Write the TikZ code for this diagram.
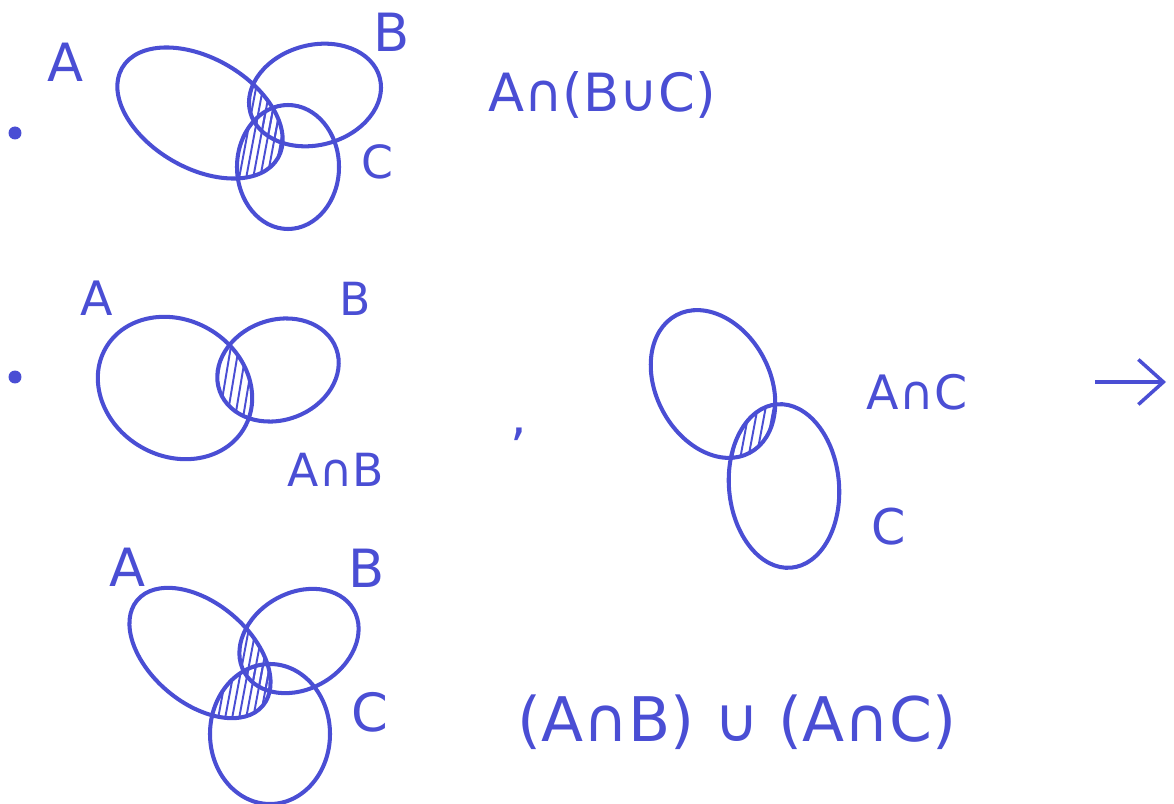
\documentclass[tikz,border=0pt]{standalone}
\usepackage{fontspec}
\setmainfont{DejaVu Sans}
\usetikzlibrary{arrows.meta}
\definecolor{pen}{RGB}{74,78,212}
\begin{document}
\begin{tikzpicture}[x=0.02cm, y=0.02cm,
  set/.style={draw=pen, line width=2.3pt},
  hatch/.style={draw=pen, line width=1.1pt},
  lbl/.style={text=pen, inner sep=0pt, font=\fontsize{30}{36}\selectfont},
  dotn/.style={circle, fill=pen, inner sep=0pt, minimum size=0.26cm}]
\useasboundingbox (0,0) rectangle (1174,-804);
% ---------- top diagram ----------
\def\TA{(200,-113) circle[x radius=90, y radius=55, rotate=-30]}
\def\TB{(315,-95) circle[x radius=67, y radius=50, rotate=15]}
\def\TC{(288,-167) circle[x radius=51, y radius=62]}
\begin{scope}\clip\TA;\clip\TB;
  \foreach \x in {200,207,...,320} \draw[hatch] (\x,-200) -- (\x+30,-40);
\end{scope}
\begin{scope}\clip\TA;\clip\TC;
  \foreach \x in {200,207,...,320} \draw[hatch] (\x,-200) -- (\x+30,-40);
\end{scope}
\draw[set] \TA; \draw[set] \TB; \draw[set] \TC;
\node[dotn] (dot1) at (15,-133) {};
\node[lbl] (tA) at (66,-62) {A};
\node[lbl] (tB) at (392,-32) {B};
\node[lbl, font=\fontsize{26}{30}\selectfont] (tC) at (377,-162) {C};
\node[lbl] (e1) at (602,-95) {A∩(B∪C)};
% ---------- middle left ----------
\def\MA{(175,-388) circle[x radius=80, y radius=68, rotate=-30]}
\def\MB{(278,-370) circle[x radius=62, y radius=50, rotate=20]}
\begin{scope}\clip\MA;\clip\MB;
  \foreach \x in {180,188,...,300} \draw[hatch] (\x,-460) -- (\x+25,-310);
\end{scope}
\draw[set] \MA; \draw[set] \MB;
\node[dotn] (dot2) at (15,-377) {};
\node[lbl, font=\fontsize{27}{30}\selectfont] (mA) at (97,-298) {A};
\node[lbl, font=\fontsize{26}{30}\selectfont] (mB) at (355,-299) {B};
\node[lbl, font=\fontsize{26}{30}\selectfont] (e2) at (336,-470) {A∩B};
\node[lbl] (comma) at (519,-434) {,};
% ---------- middle right ----------
\def\RA{(713,-384) circle[x radius=57, y radius=78, rotate=28]}
\def\RC{(784,-486) circle[x radius=55, y radius=82, rotate=5]}
\begin{scope}\clip\RA;\clip\RC;
  \foreach \x in {690,698,...,800} \draw[hatch] (\x,-470) -- (\x+15,-390);
\end{scope}
\draw[set] \RA; \draw[set] \RC;
\node[lbl, font=\fontsize{27}{30}\selectfont] (e3) at (917,-392) {A∩C};
\node[lbl, font=\fontsize{28}{30}\selectfont] (rC) at (889,-527) {C};
\coordinate (arS) at (1095,-382);
\coordinate (arE) at (1166,-382);
\draw[set, line width=2pt, -{Straight Barb[length=0.5cm,width=0.9cm]}] (arS) -- (arE);
% ---------- bottom ----------
\def\BA{(200,-653) circle[x radius=82, y radius=50, rotate=-40]}
\def\BB{(299,-641) circle[x radius=63, y radius=48, rotate=30]}
\def\BC{(270,-734) circle[x radius=60, y radius=70]}
\begin{scope}\clip\BA;\clip\BB;
  \foreach \x in {200,207,...,320} \draw[hatch] (\x,-740) -- (\x+30,-580);
\end{scope}
\begin{scope}\clip\BA;\clip\BC;
  \foreach \x in {200,207,...,320} \draw[hatch] (\x,-740) -- (\x+30,-580);
\end{scope}
\draw[set] \BA; \draw[set] \BB; \draw[set] \BC;
\node[lbl] (bA) at (128,-567) {A};
\node[lbl] (bB) at (367,-568) {B};
\node[lbl] (bC) at (370,-712) {C};
\node[lbl, font=\fontsize{35}{40}\selectfont] (e4) at (737,-722) {(A∩B) ∪ (A∩C)};
\end{tikzpicture}
\end{document}
